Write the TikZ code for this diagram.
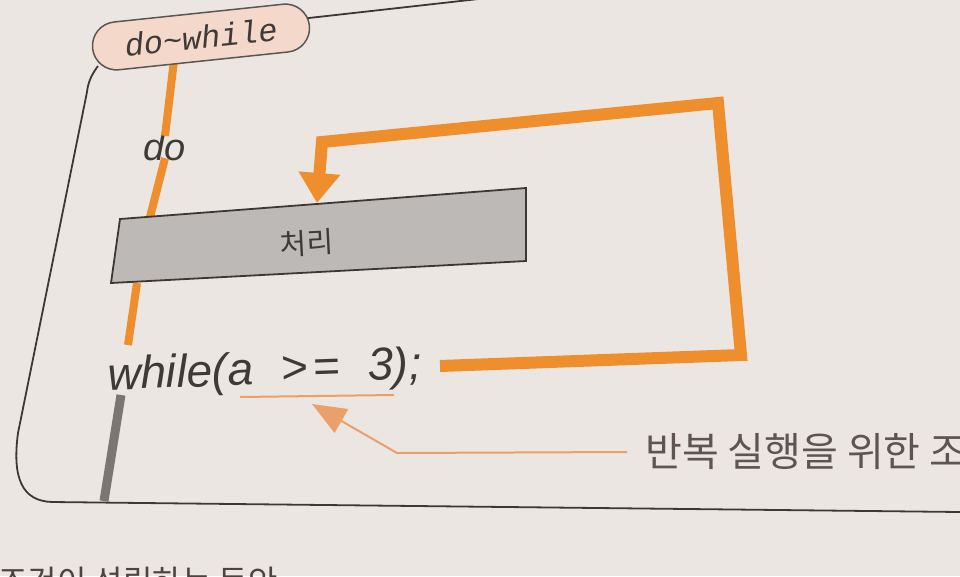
\documentclass[tikz,border=0pt]{standalone}
\usepackage{fontspec}
\setmainfont{Liberation Sans}
\newfontfamily\krfont{Noto Sans CJK KR}
\newfontfamily\monofont{Liberation Mono}
\usetikzlibrary{arrows.meta}
\definecolor{paper}{HTML}{ECE6E2}
\definecolor{flowor}{HTML}{EE8E2C}
\definecolor{noteor}{HTML}{EB9F6A}
\definecolor{frameline}{HTML}{3C3836}
\definecolor{tagfill}{HTML}{F4D8CA}
\definecolor{boxfill}{HTML}{BDB9B7}
\definecolor{inkgray}{HTML}{3E3A38}
\definecolor{notetext}{HTML}{5E5550}
\definecolor{stemgray}{HTML}{7A7674}
\tikzset{
  frame/.style={draw=frameline, line width=1.8pt},
  tagbox/.style={draw=frameline!85, line width=1.5pt, fill=tagfill, rounded corners=24pt,
    minimum width=218pt, minimum height=48pt, inner sep=0pt, text=inkgray},
  procbox/.style={draw=frameline, line width=1.8pt, fill=boxfill},
  flowline/.style={draw=flowor, line width=8pt},
  loopline/.style={draw=flowor, line width=12pt, line join=miter,
    -{Triangle[length=30pt,width=40pt]}},
  noteline/.style={draw=noteor, line width=2pt},
  notearrow/.style={draw=noteor, line width=2pt, -{Triangle[length=34pt,width=27pt]}},
  codetext/.style={text=inkgray, inner sep=0pt},
}
\begin{document}
\begin{tikzpicture}[x=1pt,y=-1pt]
\useasboundingbox (0,0) rectangle (960,576);
\fill[paper] (0,0) rectangle (960,576);
\clip (0,0) rectangle (960,576);

% outer frame
\draw[frame] (300,19) -- (960,-55);
\draw[frame] (98,66) .. controls (92,74) and (88,82) .. (87,92)
  -- (18,433) .. controls (12,478) and (22,501) .. (52,502) -- (960,512);

% coordinates
\coordinate (m1) at (175,52);
\coordinate (bTL) at (120,219);
\coordinate (bTR) at (526,188);
\coordinate (bBR) at (526,261);
\coordinate (bBL) at (111,283);
\coordinate (bin) at (149,221);
\coordinate (bout) at (137,283);
\coordinate (wtop) at (128,345);
\coordinate (gtop) at (121,395);
\coordinate (gbot) at (104,501);
\coordinate (ls) at (440,366);
\coordinate (c1) at (741,355);
\coordinate (c2) at (718,103);
\coordinate (c3) at (322,142);
\coordinate (tip) at (317,203);
\coordinate (ul1) at (240,397);
\coordinate (ul2) at (394,395);
\coordinate (nk) at (397,453);
\coordinate (ntip) at (312,404);

% labels
\node[codetext] (dolabel) at (165,147) {\fontsize{38}{40}\selectfont\itshape do};
\node[codetext, anchor=base west, rotate=2] (w) at (108,390)
  {\fontsize{46}{50}\selectfont\itshape while(a\hspace{0.6em}>\hspace{0.12em}=\hspace{0.6em}3);};

% main flow line
\draw[flowline] (m1) -- ([yshift=-3pt]dolabel.north);
\draw[flowline] ([yshift=3pt]dolabel.south) -- (bin);
\draw[flowline] (bout) -- (wtop);
\draw[draw=stemgray, line width=9pt] (gtop) -- (gbot);

% tag
\node[tagbox, rotate=6] (tag) at (201,37)
  {\fontsize{32}{34}\selectfont\monofont\itshape do\textasciitilde while};

% process box
\draw[procbox] (bTL) -- (bTR) -- (bBR) -- (bBL) -- cycle;
\node[codetext, rotate=3] (box) at (307,243) {\krfont\fontsize{29}{32}\selectfont 처리};

% loop back arrow
\draw[loopline] (ls) -- (c1) -- (c2) -- (c3) -- (tip);

% condition annotation
\draw[noteline] (ul1) -- (ul2);
\node[anchor=west, inner xsep=18pt, inner ysep=0pt, text=notetext] (note) at (627,452)
  {\krfont\fontsize{40}{42}\selectfont 반복 실행을 위한 조};
\draw[notearrow] (note.west) -- (nk) -- (ntip);

% page text below (cut off at the page edge, as in the photo)
\node[anchor=base west, inner sep=0pt, text=notetext!80!black] (pagetext) at (-2,593)
  {\krfont\fontsize{32}{34}\selectfont 조건이 성립하는 동안};
\end{tikzpicture}
\end{document}
